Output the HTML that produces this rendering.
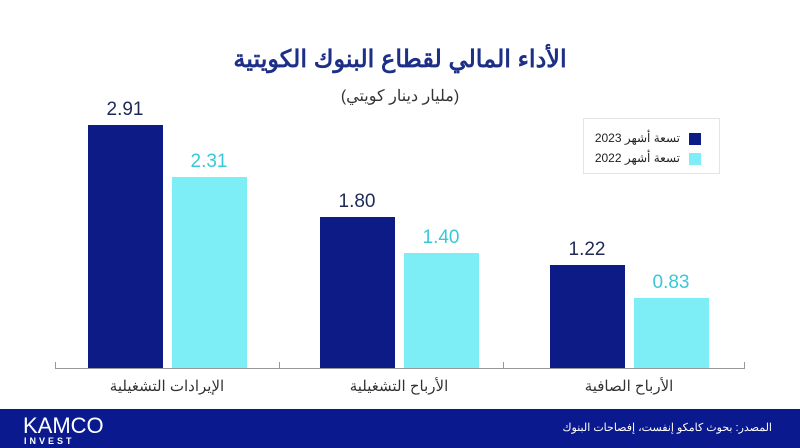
<!DOCTYPE html>
<html><head><meta charset="utf-8"><style>
html,body{margin:0;padding:0;}
body{width:800px;height:448px;position:relative;background:#fff;overflow:hidden;font-family:"Liberation Sans","Noto Sans CJK SC",sans-serif;}
.a{position:absolute;}
.t{position:absolute;text-align:center;white-space:nowrap;}
.d{background:#0c1b86;}
.l{background:#7deef6;}
.v{font-size:19px;color:#1e2a55;width:100px;}
</style></head><body>
<div class="t" style="left:0;width:800px;top:45px;font-size:24px;font-weight:bold;color:#1d2f86;direction:rtl">الأداء المالي لقطاع البنوك الكويتية</div>
<div class="t" style="left:0;width:800px;top:86px;font-size:16px;color:#333;direction:rtl">(مليار دينار كويتي)</div>

<div class="a" style="left:583px;top:118px;width:135px;height:54px;border:1px solid #e4e4e4;"></div>
<div class="a d" style="left:689px;top:133px;width:12px;height:12px;"></div>
<div class="a l" style="left:689px;top:153px;width:12px;height:12px;"></div>
<div class="t" style="left:590px;width:90px;top:131px;font-size:12px;color:#222;text-align:right;direction:rtl">تسعة أشهر 2023</div>
<div class="t" style="left:590px;width:90px;top:151px;font-size:12px;color:#222;text-align:right;direction:rtl">تسعة أشهر 2022</div>

<div class="a d" style="left:88px;top:125px;width:75px;height:244px"></div>
<div class="a l" style="left:172px;top:177px;width:75px;height:192px"></div>
<div class="a d" style="left:320px;top:217px;width:75px;height:152px"></div>
<div class="a l" style="left:404px;top:253px;width:75px;height:116px"></div>
<div class="a d" style="left:550px;top:265px;width:75px;height:104px"></div>
<div class="a l" style="left:634px;top:298px;width:75px;height:71px"></div>

<div class="t v" style="left:75px;top:99px">2.91</div>
<div class="t v" style="left:159px;top:151px;color:#38c9d8">2.31</div>
<div class="t v" style="left:307px;top:191px">1.80</div>
<div class="t v" style="left:391px;top:227px;color:#38c9d8">1.40</div>
<div class="t v" style="left:537px;top:239px">1.22</div>
<div class="t v" style="left:621px;top:272px;color:#38c9d8">0.83</div>

<div class="a" style="left:55px;top:368px;width:690px;height:1px;background:#999"></div>
<div class="a" style="left:55px;top:362px;width:1px;height:7px;background:#999"></div>
<div class="a" style="left:279px;top:362px;width:1px;height:7px;background:#999"></div>
<div class="a" style="left:503px;top:362px;width:1px;height:7px;background:#999"></div>
<div class="a" style="left:744px;top:362px;width:1px;height:7px;background:#999"></div>

<div class="t" style="left:67px;width:200px;top:377px;font-size:15px;color:#333;direction:rtl">الإيرادات التشغيلية</div>
<div class="t" style="left:299px;width:200px;top:377px;font-size:15px;color:#333;direction:rtl">الأرباح التشغيلية</div>
<div class="t" style="left:529px;width:200px;top:377px;font-size:15px;color:#333;direction:rtl">الأرباح الصافية</div>

<div class="a" style="left:0;top:409px;width:800px;height:39px;background:#0a1a8e"></div>
<div class="a" style="left:23px;top:413px;font-size:22px;color:#fff;letter-spacing:0px">KAMCO</div>
<div class="a" style="left:24px;top:436px;font-size:9px;color:#fff;font-weight:bold;letter-spacing:3px">INVEST</div>
<div class="a" style="left:560px;top:421px;width:212px;font-size:11px;color:#fff;text-align:right;direction:rtl;white-space:nowrap">المصدر: بحوث كامكو إنفست، إفصاحات البنوك</div>
</body></html>
